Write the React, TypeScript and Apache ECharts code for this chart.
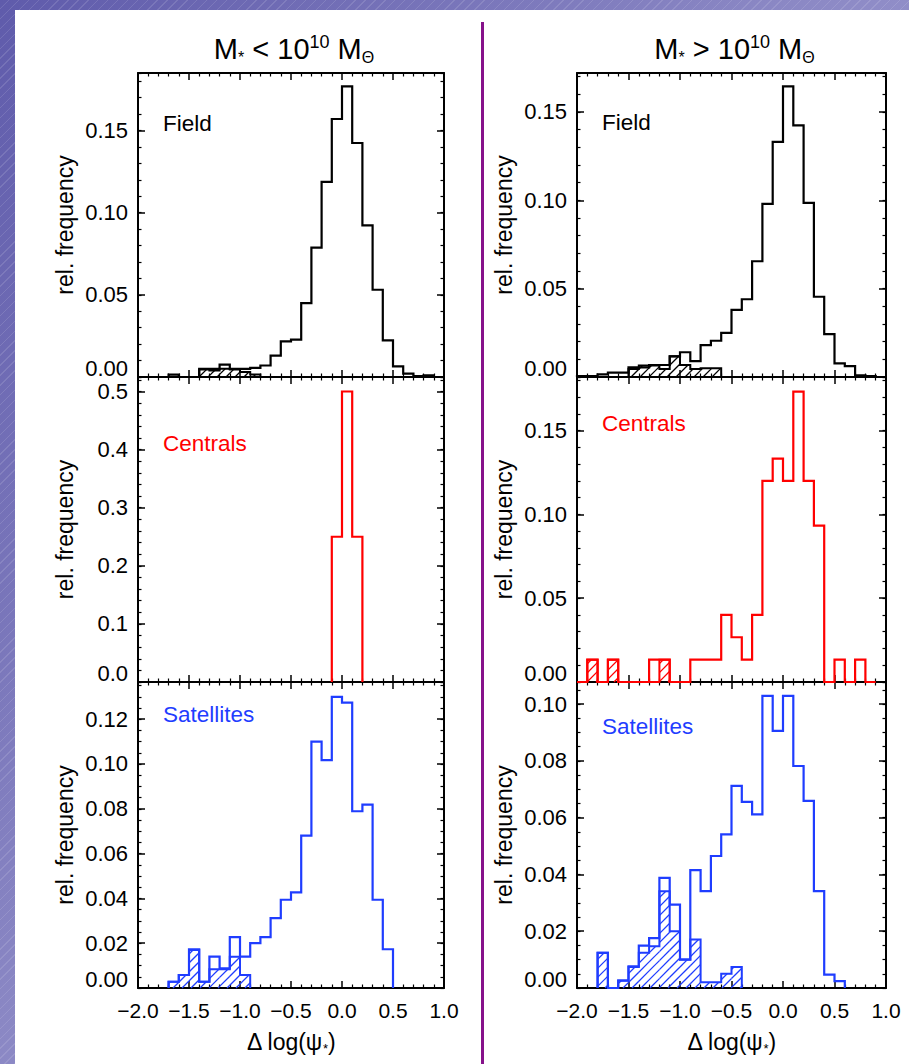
import React, { useEffect, useRef } from "react";
import * as echarts from "echarts";

// ---------------- data ----------------
const BIN_WIDTH = 0.1;
const X_MIN = -2.0;
const X_MAX = 1.0;
const X_MAJOR = 0.5;

// M* < 10^10 : Field (black)
const fieldLowStart = -1.7;
const fieldLowValues = [0.0014, 0, 0, 0.005, 0.005, 0.0075, 0.005, 0.005, 0.0055, 0.007, 0.013, 0.0217, 0.0227, 0.045, 0.0787, 0.1187, 0.157, 0.1769, 0.1424, 0.0923, 0.0531, 0.0223, 0.0065, 0.002, 0.0005, 0.001];
const fieldLowHatchStart = -1.4;
const fieldLowHatchValues = [0.0045, 0.004, 0.005, 0.0045, 0.003, 0.0015];

// M* > 10^10 : Field (black)
const fieldHighStart = -2.0;
const fieldHighValues = [0.0005, 0.0005, 0.0015, 0.0025, 0.0025, 0.0055, 0.0055, 0.0068, 0.0068, 0.0117, 0.014, 0.009, 0.018, 0.0205, 0.025, 0.038, 0.044, 0.0655, 0.098, 0.133, 0.1644, 0.1424, 0.0985, 0.0454, 0.0243, 0.0077, 0.0062, 0.001, 0.0005];
const fieldHighHatchStart = -1.5;
const fieldHighHatchValues = [0.0045, 0.0065, 0.0065, 0.0045, 0.0117, 0.0068, 0.0045, 0.005, 0.005];

// Centrals (red)
const centralsLowStart = -0.1;
const centralsLowValues = [0.25, 0.5, 0.25];
const centralsHighStart = -2.0;
const centralsHighValues = [0, 0.0133, 0, 0.0133, 0, 0, 0, 0.0133, 0.0133, 0, 0, 0.0133, 0.0133, 0.0133, 0.04, 0.0267, 0.0133, 0.04, 0.12, 0.1333, 0.12, 0.1733, 0.12, 0.0933, 0, 0.0133, 0, 0.0133, 0];
const centralsHighHatchStart = -1.9;
const centralsHighHatchValues = [0.0133, 0, 0.0133, 0, 0, 0, 0, 0.0133];

// Satellites (blue)
const satLowStart = -1.7;
const satLowValues = [0.0028, 0.0058, 0.0173, 0.0028, 0.014, 0.0088, 0.0227, 0.014, 0.02, 0.0227, 0.0312, 0.0394, 0.0427, 0.068, 0.11, 0.1017, 0.13, 0.1274, 0.0789, 0.0819, 0.0394, 0.0173];
const satLowHatchStart = -1.7;
const satLowHatchValues = [0.0028, 0.0058, 0.017, 0.0028, 0.0084, 0.0084, 0.014, 0.0058];
const satHighStart = -1.8;
const satHighValues = [0.0124, 0, 0.0026, 0.0076, 0.0149, 0.0176, 0.0388, 0.0294, 0.01, 0.0415, 0.0341, 0.0465, 0.0541, 0.0712, 0.0656, 0.0612, 0.1029, 0.0906, 0.1029, 0.0782, 0.0659, 0.0341, 0.0047, 0.0024];
const satHighHatchStart = -1.8;
const satHighHatchValues = [0.0124, 0, 0.0026, 0.0074, 0.0124, 0.0147, 0.0341, 0.02, 0.01, 0.0171, 0.002, 0.002, 0.005, 0.0074];

// y-axis ranges / tick steps (row order: field, centrals, satellites)
const yMaxLow = [0.185, 0.525, 0.1366];
const yMaxHigh = [0.172, 0.182, 0.1078];
const yMajorLow = [0.05, 0.1, 0.02];
const yMajorHigh = [0.05, 0.05, 0.02];
const yMinorLow = [0.01, 0.02, 0.005];
const yMinorHigh = [0.01, 0.01, 0.005];
const yDecimalsLow = [2, 1, 2];
const yDecimalsHigh = [2, 2, 2];

const panelNames = ["Field", "Centrals", "Satellites"];
const titles = ["{m|M}{s|*}{m| < 10}{p|10}{m| M}{s|Θ}", "{m|M}{s|*}{m| > 10}{p|10}{m| M}{s|Θ}"];
const yAxisName = "rel. frequency";
const xAxisName = "{n|Δ log(ψ}{s|*}{n|)}";

// ---------------- layout / style ----------------
const FONT = '"Liberation Sans", Arial, Helvetica, sans-serif';
const COL_LEFT = [138, 577];
const COL_WIDTH = [306, 309];
const ROW_TOP = [73, 377, 682];
const ROW_HEIGHT = [304, 305, 306];
const ROW_COLORS = ["#000000", "#ff0000", "#1f3dff"];
const LABEL_Y = [
  [123, 443.5, 714.5],
  [122, 423.5, 726.5],
];
const HATCH_SPACING = 9;

type Panel = {
  col: number;
  row: number;
  start: number;
  values: number[];
  hatchStart?: number;
  hatch?: number[];
  yMax: number;
  yMajor: number;
  yMinor: number;
  dec: number;
};

const PANELS: Panel[] = [
  { col: 0, row: 0, start: fieldLowStart, values: fieldLowValues, hatchStart: fieldLowHatchStart, hatch: fieldLowHatchValues, yMax: yMaxLow[0], yMajor: yMajorLow[0], yMinor: yMinorLow[0], dec: yDecimalsLow[0] },
  { col: 0, row: 1, start: centralsLowStart, values: centralsLowValues, yMax: yMaxLow[1], yMajor: yMajorLow[1], yMinor: yMinorLow[1], dec: yDecimalsLow[1] },
  { col: 0, row: 2, start: satLowStart, values: satLowValues, hatchStart: satLowHatchStart, hatch: satLowHatchValues, yMax: yMaxLow[2], yMajor: yMajorLow[2], yMinor: yMinorLow[2], dec: yDecimalsLow[2] },
  { col: 1, row: 0, start: fieldHighStart, values: fieldHighValues, hatchStart: fieldHighHatchStart, hatch: fieldHighHatchValues, yMax: yMaxHigh[0], yMajor: yMajorHigh[0], yMinor: yMinorHigh[0], dec: yDecimalsHigh[0] },
  { col: 1, row: 1, start: centralsHighStart, values: centralsHighValues, hatchStart: centralsHighHatchStart, hatch: centralsHighHatchValues, yMax: yMaxHigh[1], yMajor: yMajorHigh[1], yMinor: yMinorHigh[1], dec: yDecimalsHigh[1] },
  { col: 1, row: 2, start: satHighStart, values: satHighValues, hatchStart: satHighHatchStart, hatch: satHighHatchValues, yMax: yMaxHigh[2], yMajor: yMajorHigh[2], yMinor: yMinorHigh[2], dec: yDecimalsHigh[2] },
];

function stepPoints(start: number, values: number[]): number[][] {
  const pts: number[][] = [];
  const push = (x: number, y: number) => {
    const last = pts[pts.length - 1];
    if (last && Math.abs(last[0] - x) < 1e-9 && Math.abs(last[1] - y) < 1e-12) return;
    pts.push([x, y]);
  };
  push(start, 0);
  values.forEach((v, i) => {
    const x0 = start + i * BIN_WIDTH;
    push(x0, v);
    push(x0 + BIN_WIDTH, v);
  });
  push(start + values.length * BIN_WIDTH, 0);
  return pts;
}

function hatchRows(start: number, values: number[]): number[][] {
  return values.map((v, i) => [start + i * BIN_WIDTH, start + (i + 1) * BIN_WIDTH, v]);
}

const makeHatch = (color: string) => (_params: any, api: any) => {
  const x0 = api.value(0);
  const x1 = api.value(1);
  const v = api.value(2);
  if (!(v > 0)) return { type: "group", children: [] };
  const pTop = api.coord([x0, v]);
  const pBot = api.coord([x1, 0]);
  const xl = pTop[0], yt = pTop[1], xr = pBot[0], yb = pBot[1];
  const children: any[] = [];
  const S = HATCH_SPACING;
  for (let c = Math.ceil((xl + yt) / S) * S; c <= xr + yb; c += S) {
    const xa = Math.max(xl, c - yb);
    const xb = Math.min(xr, c - yt);
    if (xb - xa > 0.4) {
      children.push({
        type: "line",
        shape: { x1: xa, y1: c - xa, x2: xb, y2: c - xb },
        style: { stroke: color, lineWidth: 1.3 },
      });
    }
  }
  return { type: "group", children };
};

const fmtX = (v: number) => (v < -1e-9 ? "−" : "") + Math.abs(v).toFixed(1);

function buildOption() {
  const grid: any[] = [];
  const xAxis: any[] = [];
  const yAxis: any[] = [];
  const series: any[] = [];
  const graphic: any[] = [];

  const black = { color: "#000", width: 2 };
  const tickMajor = { show: true, inside: true, length: 7, lineStyle: { color: "#000", width: 1.5 } };
  const tickMinor = { show: true, inside: true, length: 3.5, lineStyle: { color: "#000", width: 1.2 } };

  graphic.push({
    type: "rect",
    z: -100,
    silent: true,
    shape: { x: 15, y: 10, width: 894, height: 1054 },
    style: { fill: "#ffffff" },
  });
  graphic.push({
    type: "line",
    z: 50,
    silent: true,
    shape: { x1: 482.5, y1: 22, x2: 482.5, y2: 1064 },
    style: { stroke: "#86128a", lineWidth: 3 },
  });
  titles.forEach((t, col) => {
    graphic.push({
      type: "text",
      z: 50,
      x: COL_LEFT[col] + COL_WIDTH[col] / 2 + 3,
      y: 49,
      style: {
        text: t,
        align: "center",
        verticalAlign: "middle",
        rich: {
          m: { fontSize: 29, fontFamily: FONT, fill: "#000", lineHeight: 32 },
          p: { fontSize: 18, fontFamily: FONT, fill: "#000", lineHeight: 15, verticalAlign: "top" },
          s: { fontSize: 16, fontFamily: FONT, fill: "#000", lineHeight: 12, verticalAlign: "bottom" },
        },
      },
    });
  });

  PANELS.forEach((p, i) => {
    const left = COL_LEFT[p.col];
    const width = COL_WIDTH[p.col];
    const top = ROW_TOP[p.row];
    const height = ROW_HEIGHT[p.row];
    const color = ROW_COLORS[p.row];
    const isBottom = p.row === 2;
    grid.push({ left, top, width, height, show: false, containLabel: false });

    xAxis.push({
      gridIndex: i,
      type: "value",
      position: "bottom",
      min: X_MIN,
      max: X_MAX,
      interval: X_MAJOR,
      axisLine: { show: true, onZero: false, lineStyle: black },
      axisTick: tickMajor,
      minorTick: { ...tickMinor, splitNumber: 5 },
      splitLine: { show: false },
      minorSplitLine: { show: false },
      axisLabel: { show: isBottom, margin: 12, fontSize: 21, color: "#000", fontFamily: FONT, formatter: fmtX },
      name: isBottom ? xAxisName : "",
      nameLocation: "middle",
      nameGap: 41,
      nameTextStyle: {
        fontSize: 23,
        color: "#000",
        fontFamily: FONT,
        rich: {
          n: { fontSize: 23, color: "#000", fontFamily: FONT, lineHeight: 26 },
          s: { fontSize: 13, color: "#000", fontFamily: FONT, lineHeight: 10, verticalAlign: "bottom" },
        },
      },
    });
    xAxis.push({
      gridIndex: i,
      type: "value",
      position: "top",
      min: X_MIN,
      max: X_MAX,
      interval: X_MAJOR,
      axisLine: { show: true, onZero: false, lineStyle: black },
      axisTick: tickMajor,
      minorTick: { ...tickMinor, splitNumber: 5 },
      splitLine: { show: false },
      minorSplitLine: { show: false },
      axisLabel: { show: false },
    });

    const dec = p.dec;
    const fmtY = (v: number) => {
      const s = v.toFixed(dec);
      return Math.abs(v) < 1e-12 ? "{z|" + s + "}\n{e| }" : s;
    };
    const yBase = { gridIndex: i, type: "value", min: 0, max: p.yMax, splitLine: { show: false } };
    yAxis.push({
      ...yBase,
      position: "left",
      interval: p.yMajor,
      axisLine: { show: true, onZero: false, lineStyle: black },
      axisTick: tickMajor,
      axisLabel: {
        show: true,
        margin: 10,
        fontSize: 22,
        lineHeight: 22,
        color: "#000",
        fontFamily: FONT,
        showMaxLabel: false,
        formatter: fmtY,
        rich: {
          z: { fontSize: 22, color: "#000", fontFamily: FONT, lineHeight: 20 },
          e: { fontSize: 10, lineHeight: 18 },
        },
      },
      name: yAxisName,
      nameLocation: "middle",
      nameGap: 62,
      nameTextStyle: { fontSize: 23, color: "#000", fontFamily: FONT },
    });
    yAxis.push({
      ...yBase,
      position: "left",
      interval: p.yMinor,
      axisLine: { show: false, onZero: false },
      axisTick: tickMinor,
      axisLabel: { show: false },
    });
    yAxis.push({
      ...yBase,
      position: "right",
      interval: p.yMajor,
      axisLine: { show: true, onZero: false, lineStyle: black },
      axisTick: tickMajor,
      axisLabel: { show: false },
    });
    yAxis.push({
      ...yBase,
      position: "right",
      interval: p.yMinor,
      axisLine: { show: false, onZero: false },
      axisTick: tickMinor,
      axisLabel: { show: false },
    });

    const xi = 2 * i;
    const yi = 4 * i;
    if (p.hatch && p.hatchStart !== undefined) {
      series.push({
        type: "custom",
        xAxisIndex: xi,
        yAxisIndex: yi,
        silent: true,
        z: 2,
        renderItem: makeHatch(color),
        encode: { x: [0, 1], y: 2 },
        data: hatchRows(p.hatchStart, p.hatch),
      });
      series.push({
        type: "line",
        xAxisIndex: xi,
        yAxisIndex: yi,
        silent: true,
        z: 3,
        clip: false,
        symbol: "none",
        showSymbol: false,
        lineStyle: { color, width: 2, join: "miter" },
        itemStyle: { color },
        data: stepPoints(p.hatchStart, p.hatch),
      });
    }
    series.push({
      type: "line",
      xAxisIndex: xi,
      yAxisIndex: yi,
      silent: true,
      z: 4,
      clip: false,
      symbol: "none",
      showSymbol: false,
      lineStyle: { color, width: 2.2, join: "miter" },
      itemStyle: { color },
      data: stepPoints(p.start, p.values),
    });

    graphic.push({
      type: "text",
      z: 50,
      x: left + 25,
      y: LABEL_Y[p.col][p.row],
      style: {
        text: panelNames[p.row],
        fill: color,
        fontSize: 22.5,
        fontFamily: FONT,
        align: "left",
        verticalAlign: "middle",
      },
    });
  });

  return { animation: false, grid, xAxis, yAxis, series, graphic };
}

const BG =
  "repeating-linear-gradient(135deg, rgba(255,255,255,0) 0px, rgba(255,255,255,0) 6px, rgba(255,255,255,0.12) 6px, rgba(255,255,255,0.12) 7px), linear-gradient(127deg, #5f5bab 0%, #8a87c4 45%, #b3b2de 100%)";

export default function App() {
  const ref = useRef<HTMLDivElement>(null);
  useEffect(() => {
    if (!ref.current) return;
    const chart = echarts.init(ref.current, null, { renderer: "svg", width: 909, height: 1064 });
    chart.setOption(buildOption() as any);
    return () => chart.dispose();
  }, []);
  return (
    <div
      ref={ref}
      style={{ position: "absolute", left: 0, top: 0, width: 909, height: 1064, background: BG }}
    />
  );
}
